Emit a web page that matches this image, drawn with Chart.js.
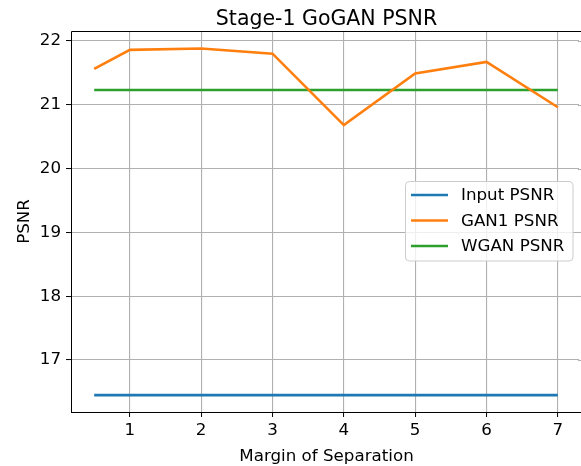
<!DOCTYPE html>
<html><head><meta charset="utf-8">
<script src="https://cdn.jsdelivr.net/npm/chart.js@4/dist/chart.umd.min.js"></script>
<style>html,body{margin:0;padding:0;background:#fff;}canvas{display:block;}</style>
</head><body>
<canvas id="c" width="581" height="466"></canvas>
<script>
const title = "Stage-1 GoGAN PSNR";
const xLabel = "Margin of Separation";
const yLabel = "PSNR";
const margins = [0.5, 1, 2, 3, 4, 5, 6, 7];
const inputPSNR = [16.45, 16.45, 16.45, 16.45, 16.45, 16.45, 16.45, 16.45];
const gan1PSNR = [21.56, 21.86, 21.88, 21.80, 20.68, 21.49, 21.67, 20.96];
const wganPSNR = [21.23, 21.23, 21.23, 21.23, 21.23, 21.23, 21.23, 21.23];
const seriesNames = ["Input PSNR", "GAN1 PSNR", "WGAN PSNR"];
const seriesColors = ["#1f77b4", "#ff7f0e", "#2ca02c"];

const FONT = "'DejaVu Sans', sans-serif";
const FS = 16.7;
const pts = arr => margins.map((x, i) => ({x: x, y: arr[i]}));

const decor = {
  id: 'decor',
  beforeDatasetsDraw(chart) {
    // the plot continues past the canvas edge: no visible right spine
    const ctx = chart.ctx, a = chart.chartArea;
    ctx.save();
    ctx.fillStyle = '#fff';
    ctx.fillRect(a.right - 2, a.top + 1, 2, a.bottom - a.top - 2);
    ctx.strokeStyle = '#b0b0b0'; ctx.lineWidth = 1.1;
    chart.scales.y.ticks.forEach(t => {
      const y = Math.round(chart.scales.y.getPixelForValue(t.value)) + 0.5;
      ctx.beginPath(); ctx.moveTo(a.right - 3, y); ctx.lineTo(a.right, y); ctx.stroke();
    });
    ctx.restore();
  },
  afterDraw(chart) {
    const ctx = chart.ctx, a = chart.chartArea;
    ctx.save();
    // top and left spines
    ctx.strokeStyle = '#000'; ctx.lineWidth = 1;
    ctx.beginPath();
    ctx.moveTo(a.right, a.top + 0.5); ctx.lineTo(a.left + 0.5, a.top + 0.5); ctx.lineTo(a.left + 0.5, a.bottom + 0.5);
    ctx.stroke();
    // title
    ctx.fillStyle = '#000';
    ctx.font = "20.5px " + FONT;
    ctx.textAlign = 'center'; ctx.textBaseline = 'alphabetic';
    ctx.fillText(title, 326.5, 25);
    // axis titles
    ctx.font = FS + "px " + FONT;
    ctx.fillText(xLabel, 326.5, 461);
    ctx.save();
    ctx.translate(25, 221.5); ctx.rotate(-Math.PI / 2);
    ctx.textBaseline = 'middle';
    ctx.fillText(yLabel, 0, 0);
    ctx.restore();
    // legend
    const bx = 405.5, by = 181.5, bw = 167.5, bh = 79.5, r = 4;
    ctx.fillStyle = 'rgba(255,255,255,0.8)';
    ctx.strokeStyle = '#cccccc'; ctx.lineWidth = 1;
    ctx.beginPath();
    ctx.moveTo(bx + r, by); ctx.lineTo(bx + bw - r, by); ctx.arcTo(bx + bw, by, bx + bw, by + r, r);
    ctx.lineTo(bx + bw, by + bh - r); ctx.arcTo(bx + bw, by + bh, bx + bw - r, by + bh, r);
    ctx.lineTo(bx + r, by + bh); ctx.arcTo(bx, by + bh, bx, by + bh - r, r);
    ctx.lineTo(bx, by + r); ctx.arcTo(bx, by, bx + r, by, r);
    ctx.closePath(); ctx.fill(); ctx.stroke();
    ctx.font = FS + "px " + FONT;
    ctx.textAlign = 'left'; ctx.textBaseline = 'middle';
    chart.data.datasets.forEach((ds, i) => {
      const y = 195 + i * 25.5;
      ctx.strokeStyle = ds.borderColor; ctx.lineWidth = 2.6;
      ctx.beginPath(); ctx.moveTo(411, y); ctx.lineTo(448, y); ctx.stroke();
      ctx.fillStyle = '#000';
      ctx.fillText(ds.label, 461, y + 1);
    });
    ctx.restore();
  }
};

new Chart(document.getElementById('c'), {
  type: 'line',
  data: {
    datasets: [
      {label: seriesNames[0], data: pts(inputPSNR), borderColor: seriesColors[0]},
      {label: seriesNames[1], data: pts(gan1PSNR), borderColor: seriesColors[1]},
      {label: seriesNames[2], data: pts(wganPSNR), borderColor: seriesColors[2]}
    ].map(d => Object.assign(d, {borderWidth: 2.6, pointRadius: 0, fill: false, tension: 0, backgroundColor: d.borderColor}))
  },
  options: {
    responsive: false,
    animation: false,
    devicePixelRatio: 1,
    layout: {padding: {top: 31, left: 0, right: 0, bottom: 0}},
    plugins: {legend: {display: false}, title: {display: false}, tooltip: {enabled: false}},
    scales: {
      x: {
        type: 'linear', min: 0.175, max: 7.325,
        afterFit: s => { s.height = 54; },
        ticks: {stepSize: 1, includeBounds: false, color: '#000', padding: 4, font: {family: FONT, size: FS}, maxRotation: 0},
        grid: {color: '#b0b0b0', lineWidth: 1.1, tickLength: 5, tickColor: '#000', tickWidth: 1},
        border: {display: true, color: '#000', width: 1}
      },
      y: {
        type: 'linear', min: 16.185, max: 22.155,
        afterFit: s => { s.width = 71; },
        ticks: {stepSize: 1, includeBounds: false, color: '#000', padding: 5, font: {family: FONT, size: FS}},
        grid: {color: '#b0b0b0', lineWidth: 1.1, tickLength: 5, tickColor: '#000', tickWidth: 1},
        border: {display: false}
      }
    }
  },
  plugins: [decor]
});
</script>
</body></html>
